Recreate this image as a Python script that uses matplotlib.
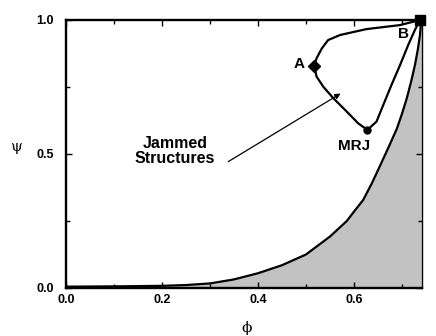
import matplotlib
matplotlib.use("Agg")
import matplotlib.pyplot as plt
from matplotlib.ticker import MultipleLocator

# lower boundary of the jammed region
lower_phi = [0.0, 0.1, 0.2, 0.25, 0.3, 0.35, 0.4, 0.45, 0.5, 0.55, 0.585, 0.6,
             0.619, 0.637, 0.654, 0.672, 0.689, 0.70, 0.71, 0.719, 0.727, 0.733,
             0.7375, 0.74]
lower_psi = [0.005, 0.006, 0.008, 0.011, 0.017, 0.032, 0.055, 0.085, 0.125, 0.192,
             0.25, 0.285, 0.328, 0.39, 0.455, 0.525, 0.593, 0.65, 0.708, 0.77,
             0.832, 0.89, 0.944, 1.0]

# loop B -> A -> MRJ -> B
loop_phi = [0.7375, 0.696, 0.626, 0.571, 0.546, 0.533, 0.522, 0.517, 0.522, 0.536,
            0.557, 0.585, 0.609, 0.628, 0.647, 0.661, 0.678, 0.696, 0.713, 0.727, 0.7375]
loop_psi = [1.0, 0.981, 0.966, 0.944, 0.925, 0.894, 0.857, 0.83, 0.789, 0.751,
            0.708, 0.658, 0.614, 0.59, 0.621, 0.683, 0.757, 0.832, 0.907, 0.963, 1.0]

point_A = (0.517, 0.83)
point_MRJ = (0.628, 0.59)
point_B = (0.738, 1.0)

fig = plt.figure(figsize=(4.36, 3.36), dpi=100)
ax = fig.add_axes([0.1514, 0.1429, 0.8165, 0.7976])

ax.fill_between(lower_phi, lower_psi, 0, color="#c2c2c2", lw=0)
ax.plot(lower_phi, lower_psi, color="black", lw=1.6, solid_joinstyle="round")
ax.plot(loop_phi, loop_psi, color="black", lw=1.6, solid_joinstyle="round")

ax.plot(*point_A, marker="D", color="black", ms=6.5)
ax.plot(*point_MRJ, marker="o", color="black", ms=5)
ax.plot(*point_B, marker="s", color="black", ms=7, clip_on=False)

bold = dict(fontweight="bold", family="Liberation Sans")
ax.text(0.485, 0.836, "A", ha="center", va="center", fontsize=11, **bold)
ax.text(0.704, 0.948, "B", ha="center", va="center", fontsize=11, **bold)
ax.text(0.60, 0.53, "MRJ", ha="center", va="center", fontsize=11, **bold)
ax.text(0.227, 0.51, "Jammed\nStructures", ha="center", va="center",
        fontsize=11.5, linespacing=1.0, **bold)
ax.annotate("", xy=(0.577, 0.731), xytext=(0.333, 0.466),
            arrowprops=dict(arrowstyle="-|>", color="black", lw=0.9,
                            mutation_scale=8))

ax.set_xlim(0, 0.7417)
ax.set_ylim(0, 1.0)
ax.set_xticks([0.0, 0.2, 0.4, 0.6])
ax.set_yticks([0.0, 0.5, 1.0])
ax.xaxis.set_minor_locator(MultipleLocator(0.1))
ax.yaxis.set_minor_locator(MultipleLocator(0.25))
ax.set_xticklabels(["0.0", "0.2", "0.4", "0.6"], fontsize=9, **bold)
ax.set_yticklabels(["0.0", "0.5", "1.0"], fontsize=9, **bold)
ax.tick_params(which="both", direction="in", top=True, right=True, width=1)
ax.tick_params(which="major", length=4)
ax.tick_params(which="minor", length=3)
ax.tick_params(axis="x", pad=4)
ax.tick_params(axis="y", pad=9)

for side in ["left", "top", "bottom"]:
    ax.spines[side].set_linewidth(1.7)
ax.spines["right"].set_linewidth(1.0)

ax.set_ylabel("ψ", rotation=0, fontsize=11, family="DejaVu Serif")
ax.yaxis.set_label_coords(-0.14, 0.50)
ax.set_xlabel("ϕ", fontsize=11, family="DejaVu Serif")
ax.xaxis.set_label_coords(0.506, -0.125)

fig.savefig("out.png", dpi=100)
